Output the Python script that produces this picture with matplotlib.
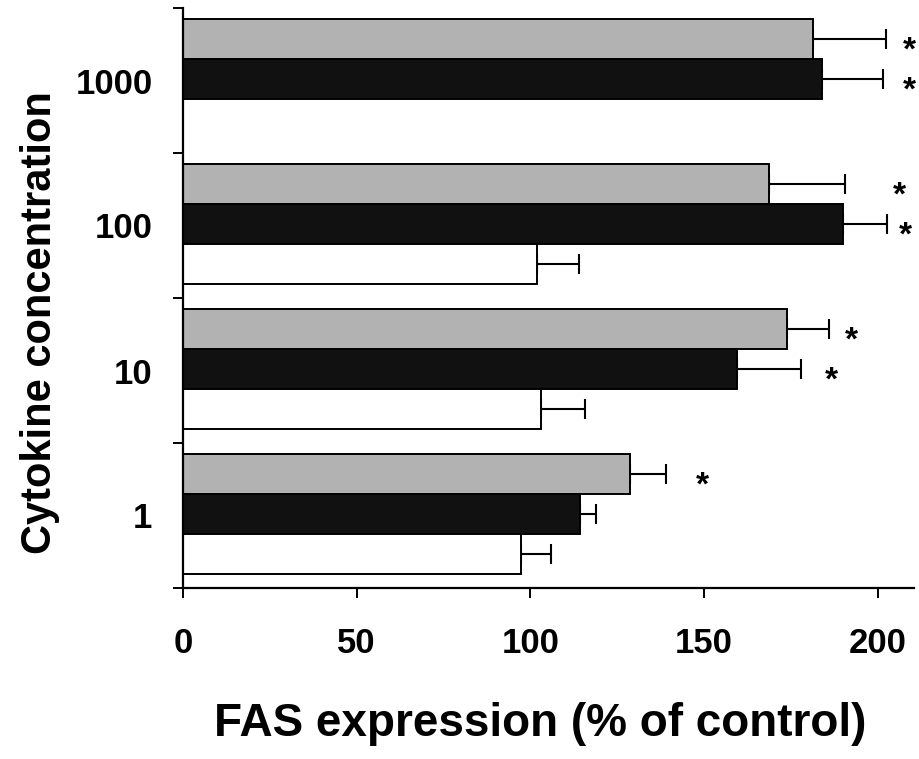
import numpy as np
import matplotlib
matplotlib.use("Agg")
import matplotlib.pyplot as plt
from matplotlib.ticker import FixedLocator

# ---- data ----
concentrations = ["1", "10", "100", "1000"]
grey_values = [128.8, 173.8, 168.6, 181.3]
grey_errors = [10.2, 12.2, 21.9, 21.0]
black_values = [114.2, 159.4, 190.0, 183.9]
black_errors = [4.6, 18.6, 12.7, 17.5]
white_values = [97.4, 103.0, 101.9, np.nan]
white_errors = [8.6, 12.7, 12.1, np.nan]
# significance marks: (group index, series, x position in % units)
star_series = ["grey", "black", "grey", "black", "grey", "black", "grey"]
star_groups = [3, 3, 2, 2, 1, 1, 0]
star_x = [209.0, 209.0, 206.3, 208.0, 192.5, 186.6, 149.6]
x_ticks = [0, 50, 100, 150, 200]
x_label = "FAS expression (% of control)"
y_label = "Cytokine concentration"

plt.rcParams['font.family'] = ['Liberation Sans', 'DejaVu Sans']

W, H = 920, 759
fig = plt.figure(figsize=(W / 100, H / 100), dpi=100)
ax_l, ax_r, ax_b, ax_t = 183, 914, 588, 8
ax = fig.add_axes([ax_l / W, 1 - ax_b / H, (ax_r - ax_l) / W, (ax_b - ax_t) / H])

y = np.arange(len(concentrations))
h = 0.275
base = 0.01
pos = {"grey": y + base + h, "black": y + base, "white": y + base - h}
colors = {"grey": "#b2b2b2", "black": "#111111", "white": "#ffffff"}
vals = {"grey": grey_values, "black": black_values, "white": white_values}
errs = {"grey": grey_errors, "black": black_errors, "white": white_errors}

for key in ["grey", "black", "white"]:
    v = np.array(vals[key], dtype=float)
    e = np.array(errs[key], dtype=float)
    m = ~np.isnan(v)
    ax.barh(pos[key][m], v[m], height=h, color=colors[key],
            edgecolor="black", linewidth=1.4, zorder=2)
    ax.errorbar(v[m], pos[key][m], xerr=[np.zeros(m.sum()), e[m]], fmt="none",
                ecolor="black", elinewidth=1.5, capsize=7, capthick=1.5, zorder=1)

for s, g, xs in zip(star_series, star_groups, star_x):
    ax.annotate("*", xy=(xs, pos[s][g]), xytext=(0, -15), textcoords="offset points",
                ha="center", va="baseline", fontsize=24, fontweight="bold",
                annotation_clip=False)

ax.set_xlim(0, 210.4)
ax.set_ylim(-0.5, 3.5)

for sp in ["top", "right"]:
    ax.spines[sp].set_visible(False)
for sp in ["left", "bottom"]:
    ax.spines[sp].set_linewidth(1.6)

ax.set_xticks(x_ticks)
ax.set_xticklabels([str(t) for t in x_ticks], fontsize=25, fontweight="bold")
ax.tick_params(axis="x", direction="out", length=7, width=1.4, pad=21)

ax.set_yticks(y)
ax.set_yticklabels(concentrations, fontsize=25, fontweight="bold")
ax.tick_params(axis="y", which="major", length=0, pad=22)
ax.yaxis.set_minor_locator(FixedLocator(np.arange(-0.5, 3.6, 1.0)))
ax.tick_params(axis="y", which="minor", direction="out", length=7, width=1.4)

ax.set_xlabel(x_label, fontsize=33, fontweight="bold", va="center")
ax.xaxis.set_label_coords((540 - ax_l) / (ax_r - ax_l), (ax_b - 724) / (ax_b - ax_t))
ax.set_ylabel(y_label, fontsize=30, fontweight="bold", va="center")
ax.yaxis.set_label_coords((40 - ax_l) / (ax_r - ax_l), (ax_b - 323) / (ax_b - ax_t))

fig.savefig("out.png", dpi=100)
